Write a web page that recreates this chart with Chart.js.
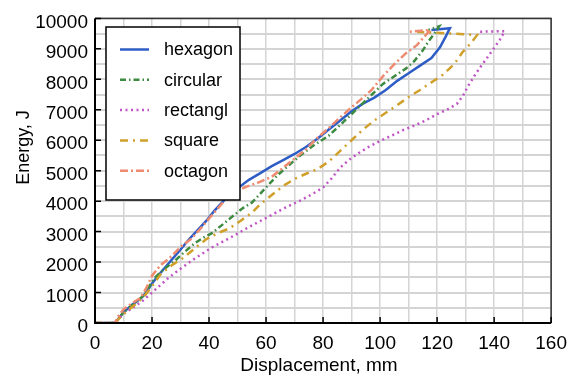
<!DOCTYPE html>
<html><head><meta charset="utf-8">
<script src="https://cdn.jsdelivr.net/npm/chart.js@4.4.0/dist/chart.umd.min.js"></script>
<style>html,body{margin:0;padding:0;background:#fff}</style>
</head><body>
<canvas id="c" width="576" height="376"></canvas>
<script>
const seriesNames = ['hexagon', 'circular', 'rectangl', 'square', 'octagon'];

const hexagonX = [0, 7, 10, 13, 16, 18, 20, 23, 26, 29, 33, 36, 39, 42, 46, 50, 54, 58, 62, 66, 70, 74, 78, 82, 86, 90, 94, 98, 102, 106, 110, 114, 118, 121, 123, 124.5, 118];
const hexagonY = [0, 0, 350, 600, 800, 1000, 1300, 1650, 1980, 2300, 2750, 3050, 3350, 3700, 4100, 4420, 4700, 4920, 5150, 5350, 5550, 5780, 6050, 6350, 6650, 6950, 7200, 7400, 7650, 7950, 8200, 8450, 8700, 9050, 9400, 9680, 9620];

const circularX = [0, 7, 10, 14, 17, 19, 21, 24, 28, 31, 35, 38, 41, 45, 49, 52, 55, 58, 61, 64, 68, 72, 77, 82, 86, 91, 96, 101, 105, 109, 112, 115, 117, 119, 120.7, 117];
const circularY = [0, 0, 350, 650, 900, 1200, 1490, 1750, 2040, 2300, 2620, 2800, 2950, 3250, 3560, 3780, 3950, 4250, 4550, 4850, 5180, 5500, 5850, 6150, 6500, 6950, 7400, 7850, 8100, 8350, 8600, 8950, 9250, 9500, 9740, 9620];

const rectanglX = [0, 7, 10, 14, 17, 20, 23, 26, 30, 34, 38, 41, 45, 49, 53, 57, 62, 67, 72, 76, 80, 83, 86, 89, 92, 96, 100, 104, 108, 112, 116, 120, 124, 127, 129, 131, 133, 135, 137.5, 140, 142, 143.7, 134];
const rectanglY = [0, 0, 300, 550, 750, 1000, 1250, 1500, 1780, 2050, 2300, 2480, 2680, 2880, 3100, 3300, 3550, 3800, 4020, 4220, 4450, 4750, 5100, 5350, 5550, 5780, 5980, 6150, 6330, 6480, 6650, 6860, 7030, 7200, 7450, 7800, 8100, 8380, 8700, 9030, 9300, 9580, 9560];

const squareX = [0, 7, 10, 14, 17, 20, 23, 27, 31, 35, 39, 43, 47, 51, 55, 58, 62, 66, 70, 74, 78, 82, 86, 90, 94, 98, 102, 106, 110, 114, 118, 122, 126, 129, 132, 134, 130, 113];
const squareY = [0, 0, 300, 600, 850, 1200, 1600, 1900, 2140, 2450, 2750, 2950, 3100, 3350, 3620, 3900, 4200, 4500, 4730, 4900, 5050, 5300, 5650, 6000, 6350, 6650, 6900, 7150, 7420, 7650, 7900, 8150, 8500, 8900, 9200, 9450, 9480, 9560];

const octagonX = [0, 7, 8, 10, 13, 16, 18, 20, 23, 27, 30, 34, 37, 40, 43, 46, 49, 53, 57, 62, 66, 70, 74, 78, 82, 86, 90, 94, 97, 101, 105, 109, 113, 115.5, 117.6, 110];
const octagonY = [0, 0, 200, 450, 650, 830, 1150, 1550, 1900, 2200, 2500, 2780, 3100, 3430, 3750, 4080, 4300, 4470, 4600, 4800, 5100, 5400, 5700, 6080, 6400, 6750, 7080, 7400, 7650, 8100, 8500, 8850, 9130, 9400, 9620, 9560];

const xTickLabels = [0, 20, 40, 60, 80, 100, 120, 140, 160];
const yTickLabels = [0, 1000, 2000, 3000, 4000, 5000, 6000, 7000, 8000, 9000, 10000];

const xTitle = 'Displacement, mm';
const yTitle = 'Energy, J';

const FONT = "'Liberation Sans', Arial, sans-serif";

function pts(xs, ys) { return xs.map((x, i) => ({ x: x, y: ys[i] })); }

const styles = [
  { color: '#2f5dc6', dash: [], order: 5 },
  { color: '#3d8b40', dash: [6, 3, 1.5, 3], order: 4 },
  { color: '#c155c6', dash: [2, 3.5], order: 3 },
  { color: '#d0a02a', dash: [8, 5, 2, 5], order: 2 },
  { color: '#ee8a70', dash: [8, 3, 2, 3], order: 1 }
];
const allData = [pts(hexagonX, hexagonY), pts(circularX, circularY), pts(rectanglX, rectanglY), pts(squareX, squareY), pts(octagonX, octagonY)];

const datasets = seriesNames.map((name, i) => ({
  label: name,
  data: allData[i],
  borderColor: styles[i].color,
  backgroundColor: styles[i].color,
  borderDash: styles[i].dash,
  borderWidth: 2.5,
  pointRadius: 0,
  showLine: true,
  tension: 0,
  fill: false,
  order: styles[i].order
}));

const decor = {
  id: 'decor',
  afterDraw(chart) {
    const ctx = chart.ctx;
    const a = chart.chartArea;
    const xs = chart.scales.x, ys = chart.scales.y;
    ctx.save();
    // frame
    ctx.setLineDash([]);
    ctx.strokeStyle = '#333';
    ctx.lineWidth = 1.5;
    ctx.beginPath();
    ctx.moveTo(a.left, a.top); ctx.lineTo(a.right, a.top); ctx.lineTo(a.right, a.bottom);
    ctx.stroke();
    ctx.strokeStyle = '#000';
    ctx.lineWidth = 2;
    ctx.beginPath();
    ctx.moveTo(a.left, a.top); ctx.lineTo(a.left, a.bottom); ctx.lineTo(a.right, a.bottom);
    ctx.stroke();
    // inward ticks
    ctx.lineWidth = 1.5;
    ctx.beginPath();
    xTickLabels.forEach(v => { const p = xs.getPixelForValue(v); ctx.moveTo(p, a.bottom); ctx.lineTo(p, a.bottom - 6); });
    yTickLabels.forEach(v => { const p = ys.getPixelForValue(v); ctx.moveTo(a.left, p); ctx.lineTo(a.left + 6, p); });
    ctx.stroke();
    // axis titles
    ctx.fillStyle = '#000';
    ctx.font = '19px ' + FONT;
    ctx.textAlign = 'center';
    ctx.textBaseline = 'alphabetic';
    ctx.fillText(xTitle, 319, 371);
    ctx.save();
    ctx.translate(28.5, 147.5);
    ctx.rotate(-Math.PI / 2);
    ctx.font = '18px ' + FONT;
    ctx.fillText(yTitle, 0, 0);
    ctx.restore();
    // legend
    const L = 106, T = 27, W = 134, H = 173;
    ctx.fillStyle = '#fff';
    ctx.fillRect(L, T, W, H);
    ctx.strokeStyle = '#000';
    ctx.lineWidth = 1.5;
    ctx.strokeRect(L, T, W, H);
    ctx.font = '18px ' + FONT;
    ctx.textAlign = 'left';
    ctx.textBaseline = 'middle';
    chart.data.datasets.forEach((ds, i) => {
      const y = 49.5 + i * 30.3;
      ctx.strokeStyle = ds.borderColor;
      ctx.lineWidth = 2.5;
      ctx.setLineDash(ds.borderDash);
      ctx.beginPath();
      ctx.moveTo(120, y); ctx.lineTo(149, y);
      ctx.stroke();
      ctx.setLineDash([]);
      ctx.fillStyle = '#000';
      ctx.fillText(ds.label, 164, y + 1);
    });
    ctx.restore();
  }
};

new Chart(document.getElementById('c'), {
  type: 'scatter',
  data: { datasets: datasets },
  options: {
    responsive: false,
    devicePixelRatio: 1,
    animation: false,
    events: [],
    layout: { padding: { top: 14, right: 21, left: 0, bottom: 0 } },
    plugins: { legend: { display: false }, tooltip: { enabled: false } },
    scales: {
      x: {
        type: 'linear', min: 0, max: 160,
        afterFit: s => { s.height = 53; },
        ticks: {
          stepSize: 10, autoSkip: false, maxRotation: 0, padding: 9,
          color: '#000', font: { family: FONT, size: 19 },
          callback: v => (xTickLabels.includes(v) ? String(v) : '')
        },
        grid: { color: '#d4d4d4', lineWidth: 1.5, drawTicks: false },
        border: { display: false }
      },
      y: {
        type: 'linear', min: 0, max: 10000,
        afterFit: s => { s.width = 95; },
        ticks: {
          stepSize: 500, autoSkip: false, padding: 7, labelOffset: 4,
          color: '#000', font: { family: FONT, size: 19 },
          callback: v => (yTickLabels.includes(v) ? String(v) : '')
        },
        grid: { color: '#d4d4d4', lineWidth: 2, drawTicks: false },
        border: { display: false }
      }
    }
  },
  plugins: [decor]
});
</script>
</body></html>
